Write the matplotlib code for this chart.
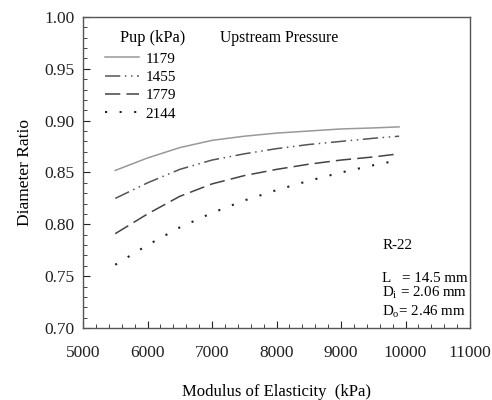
import matplotlib
matplotlib.use("Agg")
import matplotlib.pyplot as plt
from matplotlib.ticker import MultipleLocator

plt.rcParams['font.family'] = ['Liberation Serif', 'DejaVu Serif']
plt.rcParams['mathtext.fontset'] = 'custom'
plt.rcParams['mathtext.rm'] = 'Liberation Serif'

modulus = [5500, 6000, 6500, 7000, 7500, 8000, 8500, 9000, 9500, 9900]
pressures = ['1179', '1455', '1779', '2144']
ratio_1179 = [0.852, 0.864, 0.874, 0.881, 0.885, 0.888, 0.890, 0.892, 0.893, 0.894]
ratio_1455 = [0.825, 0.840, 0.853, 0.862, 0.868, 0.873, 0.877, 0.880, 0.883, 0.885]
ratio_1779 = [0.791, 0.810, 0.827, 0.839, 0.847, 0.853, 0.858, 0.862, 0.865, 0.868]
ratio_2144 = [0.761, 0.780, 0.797, 0.811, 0.823, 0.833, 0.842, 0.850, 0.857, 0.862]

fig = plt.figure(figsize=(4.92, 4.0), dpi=100)
ax = fig.add_axes([83/492, 1-328/400, (470-83)/492, (328-17)/400])

ax.plot(modulus, ratio_1179, color='#999999', lw=1.1, linestyle='-', label=pressures[0])
ax.plot(modulus, ratio_1455, color='#555555', lw=1.1, linestyle=(0, (10, 3, 1, 3, 1, 3)), label=pressures[1])
ax.plot(modulus, ratio_1779, color='#444444', lw=1.1, linestyle=(0, (10, 4)), label=pressures[2])
ax.plot(modulus, ratio_2144, color='#222222', lw=1.5, linestyle=(0, (1, 6)), label=pressures[3])

ax.set_xlim(5000, 11000)
ax.set_ylim(0.70, 1.00)
ax.xaxis.set_major_locator(MultipleLocator(1000))
ax.xaxis.set_minor_locator(MultipleLocator(200))
ax.yaxis.set_major_locator(MultipleLocator(0.05))
ax.yaxis.set_minor_locator(MultipleLocator(0.01))
ax.yaxis.set_major_formatter(matplotlib.ticker.FormatStrFormatter('%.2f'))
ax.tick_params(which='both', direction='in', top=False, right=False, labelsize=12.5, colors='#222222')
ax.tick_params(which='major', length=5)
ax.tick_params(which='minor', length=3)
ax.tick_params(axis='x', which='major', pad=12)
ax.tick_params(axis='y', which='major', pad=6)
for s in ax.spines.values():
    s.set_color('#555555')
    s.set_linewidth(1.0)

fig.text((83 + 470) / 2 / 492, 1 - 392/400, 'Modulus of Elasticity  (kPa)', fontsize=12,
         ha='center', va='center')
ax.set_ylabel('Diameter Ratio', fontsize=12.5, labelpad=8)

leg = ax.legend(loc='upper left', bbox_to_anchor=((105 - 83) / 387, (328 - 52) / 311), frameon=False,
                fontsize=11, handlelength=2.2, handletextpad=0.45, labelspacing=0.3,
                borderpad=0, borderaxespad=0)
fig.text(120/492, 1 - 38/400, 'Pup (kPa)', fontsize=11.8, va='center', ha='left')
fig.text(220/492, 1 - 38/400, 'Upstream Pressure', fontsize=11.3, va='center', ha='left')

ann_x = 9636
ax.text(ann_x, 0.780, 'R-22', fontsize=10.8, va='center')
ax.text(ann_x, 0.7473, 'L   = 14.5 mm', fontsize=10.8, va='center')
ax.text(ann_x, 0.7338, r'D$_\mathrm{i}$ = 2.06 mm', fontsize=10.8, va='center')
ax.text(ann_x, 0.7154, r'D$_\mathrm{o}$= 2.46 mm', fontsize=10.8, va='center')

fig.savefig('out.png', dpi=100)
